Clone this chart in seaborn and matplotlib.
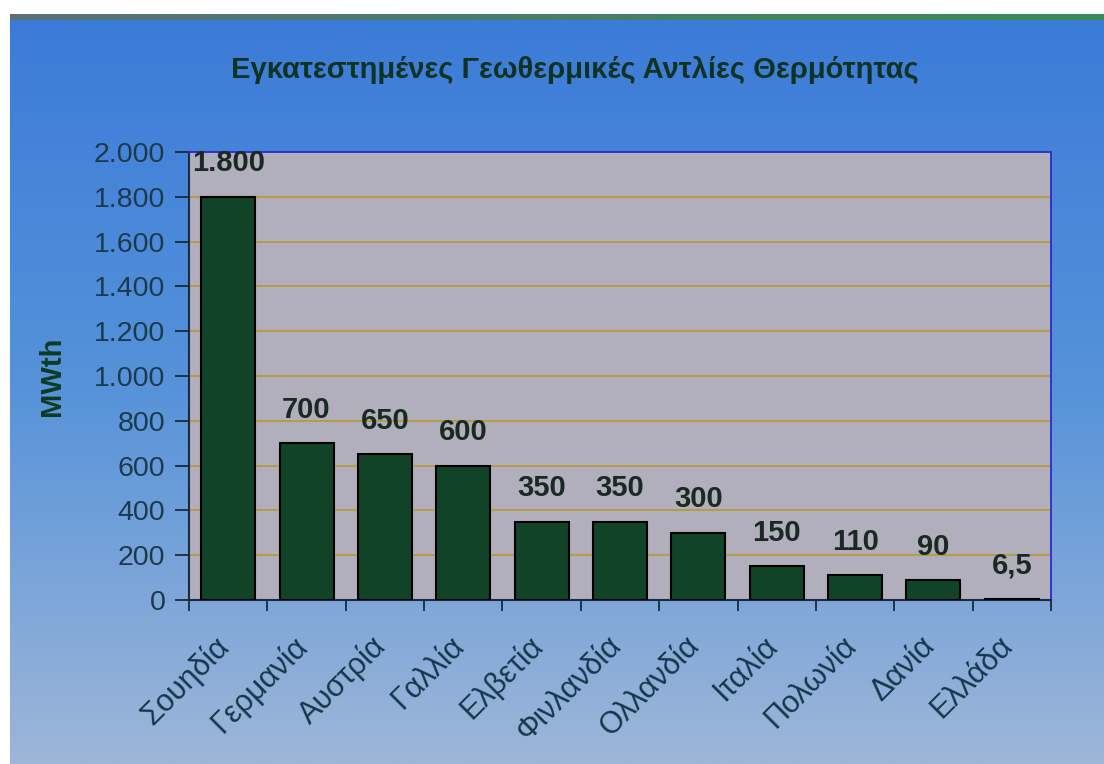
import numpy as np
import pandas as pd
import matplotlib
matplotlib.use("Agg")
import matplotlib.pyplot as plt
from matplotlib.patches import Rectangle
from matplotlib.ticker import FuncFormatter, FixedLocator
from matplotlib.transforms import ScaledTranslation
import seaborn as sns

countries = ["Σουηδία", "Γερμανία", "Αυστρία", "Γαλλία", "Ελβετία", "Φινλανδία",
             "Ολλανδία", "Ιταλία", "Πολωνία", "Δανία", "Ελλάδα"]
values = [1800, 700, 650, 600, 350, 350, 300, 150, 110, 90, 6.5]
value_labels = ["1.800", "700", "650", "600", "350", "350", "300", "150", "110", "90", "6,5"]
title = "Εγκατεστημένες Γεωθερμικές Αντλίες Θερμότητας"
ylabel = "MWth"

sns.set_theme(style="white")
plt.rcParams["font.family"] = ["Liberation Sans", "DejaVu Sans"]

fig = plt.figure(figsize=(11.04, 7.64), dpi=100)

# background gradient
bg = fig.add_axes([0, 0, 1, 1], zorder=-10)
top = np.array([0x3a, 0x7a, 0xd8]) / 255
mid = np.array([0x55, 0x92, 0xda]) / 255
bot = np.array([0x9e, 0xb6, 0xd8]) / 255
n = 256
t = np.linspace(0, 1, n)[:, None]
grad = np.where(t < 0.5, top + (mid - top) * (t / 0.5), mid + (bot - mid) * ((t - 0.5) / 0.5))
bg.imshow(grad[:, None, :], aspect="auto", extent=[0, 1, 0, 1])
bg.set_axis_off()

# top stripe (grey -> green)
st = fig.add_axes([0, 1 - 20 / 764, 1, 6 / 764], zorder=-5)
s = np.linspace(0, 1, 256)[:, None]
c0 = np.array([0x5a, 0x70, 0x7a]) / 255
c1 = np.array([0x3a, 0x8c, 0x55]) / 255
stripe = c0 + (c1 - c0) * s
st.imshow(stripe[None, :, :], aspect="auto", extent=[0, 1, 0, 1])
st.set_axis_off()

fig.patches.append(Rectangle((0, 1 - 14 / 764), 1, 14 / 764, transform=fig.transFigure,
                             facecolor="white", edgecolor="none", zorder=5))
fig.patches.append(Rectangle((0, 0), 10 / 1104, 1, transform=fig.transFigure,
                             facecolor="white", edgecolor="none", zorder=5))

ax = fig.add_axes([189 / 1104, 1 - 600 / 764, (1051 - 189) / 1104, (600 - 152) / 764])
ax.set_facecolor("#b1afbc")

df = pd.DataFrame({"country": countries, "value": values})
sns.barplot(data=df, x="country", y="value", color="#104327", saturation=1,
            width=0.69, edgecolor="black", linewidth=1.5, ax=ax, zorder=3)

ax.set_ylim(0, 2000)
ax.set_xlim(-0.5, len(countries) - 0.5)
ax.set_yticks(np.arange(0, 2001, 200))
ax.yaxis.set_major_formatter(FuncFormatter(lambda v, p: f"{int(v):,}".replace(",", ".")))
ax.grid(axis="y", color="#b89a3a", linewidth=1.3, zorder=1)
ax.set_axisbelow(True)

ax.set_xlabel("")
ax.set_ylabel(ylabel, fontsize=21, fontweight="bold", color="#0d3b22", labelpad=20)

ax.tick_params(axis="y", which="major", left=True, length=10, width=1.3, color="#1a2a40",
               labelsize=20.5, labelcolor="#1b3a4a", pad=7)
ax.xaxis.set_minor_locator(FixedLocator(np.arange(-0.5, len(countries), 1.0)))
ax.tick_params(axis="x", which="minor", bottom=True, length=8, width=1.3, color="#1a2a40")
ax.tick_params(axis="x", which="major", bottom=False, length=0, labelsize=22,
               labelcolor="#14384a", pad=22)
shift = ScaledTranslation(-14 / 100, 0, fig.dpi_scale_trans)
for lbl in ax.get_xticklabels():
    lbl.set_rotation(45)
    lbl.set_ha("right")
    lbl.set_rotation_mode("anchor")
    lbl.set_transform(lbl.get_transform() + shift)

for sp in ["left", "bottom"]:
    ax.spines[sp].set_color("#1a2a40")
    ax.spines[sp].set_linewidth(1.5)
for sp in ["top", "right"]:
    ax.spines[sp].set_color("#2a2ad0")
    ax.spines[sp].set_linewidth(1.3)

for i, (v, lab) in enumerate(zip(values, value_labels)):
    ax.annotate(lab, (i, v), xytext=(0, 24), textcoords="offset points",
                ha="center", va="center", fontsize=21, fontweight="bold",
                color="#1a2a22", zorder=6, annotation_clip=False)

fig.text(0.521, 1 - 70 / 764, title, ha="center", va="center", fontsize=21,
         fontweight="bold", color="#0f3322")

fig.savefig("out.png", dpi=100)
